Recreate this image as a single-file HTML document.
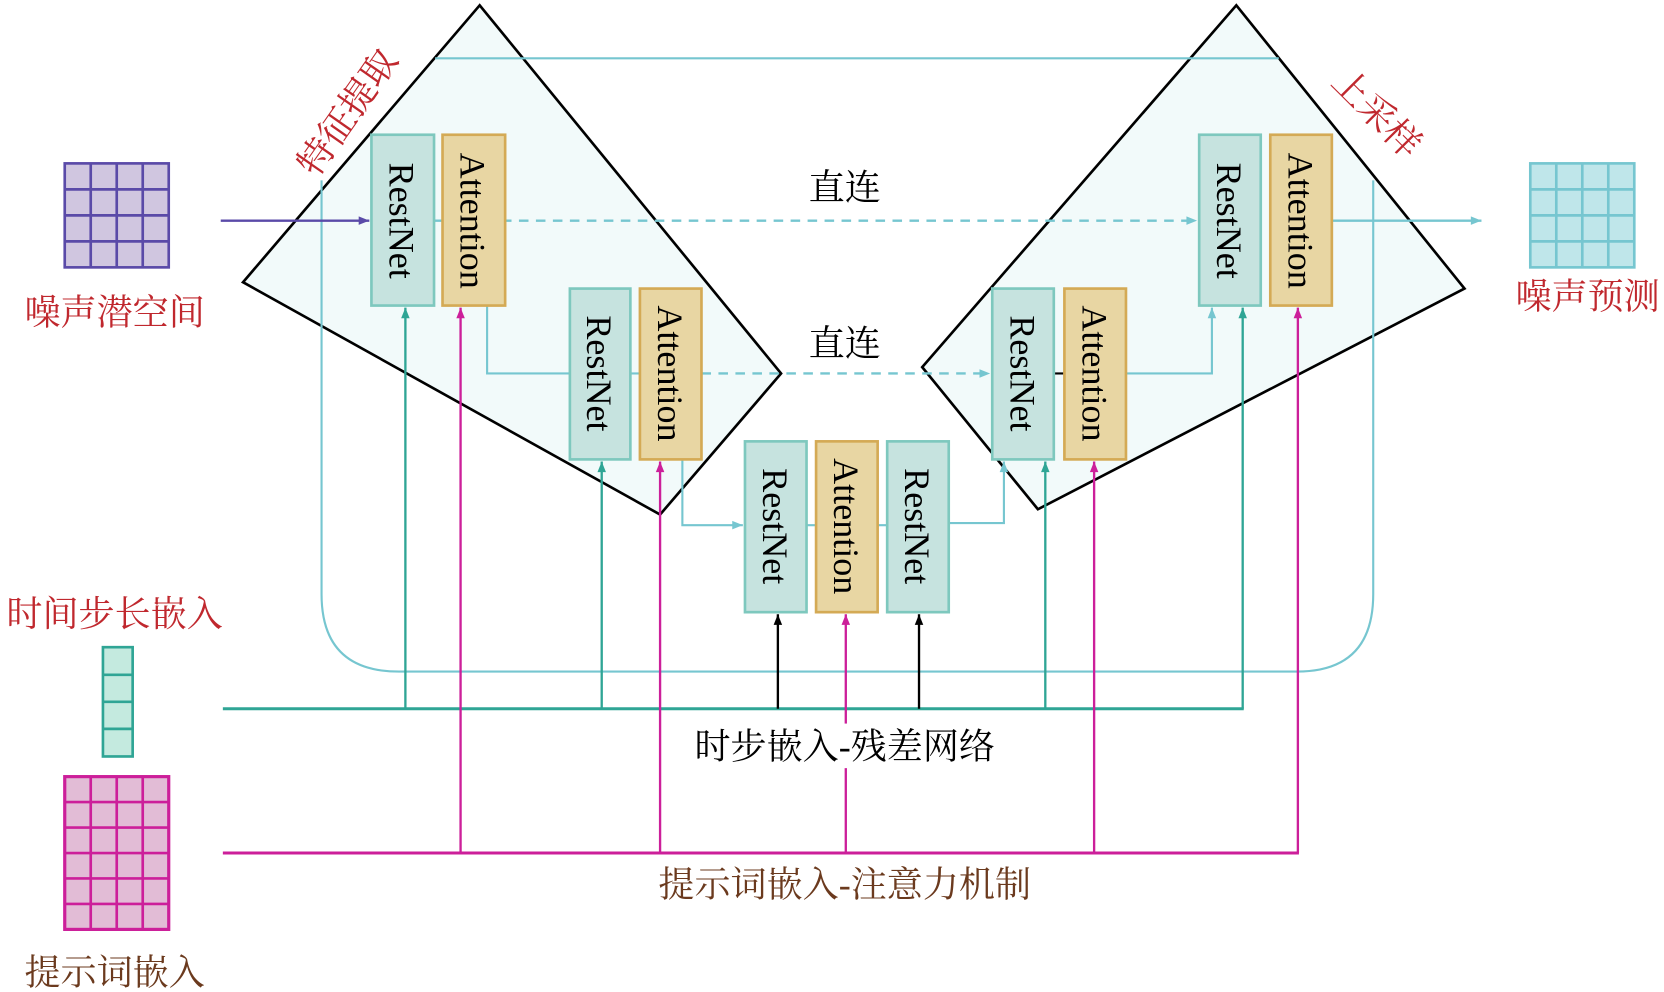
<!DOCTYPE html>
<html><head><meta charset="utf-8"><style>html,body{margin:0;padding:0;background:#fff}svg{display:block}</style></head>
<body>
<svg width="1664" height="992" viewBox="0 0 1568 935" preserveAspectRatio="none" xmlns="http://www.w3.org/2000/svg">
<defs>
<marker id="aC" viewBox="0 0 10 10" refX="10" refY="5" markerWidth="14" markerHeight="10" markerUnits="userSpaceOnUse" orient="auto"><path d="M0,1 L10,5 L0,9 z" fill="#76c6d0"/></marker>
<marker id="aT" viewBox="0 0 10 10" refX="10" refY="5" markerWidth="14" markerHeight="10" markerUnits="userSpaceOnUse" orient="auto"><path d="M0,1 L10,5 L0,9 z" fill="#2fa595"/></marker>
<marker id="aM" viewBox="0 0 10 10" refX="10" refY="5" markerWidth="14" markerHeight="10" markerUnits="userSpaceOnUse" orient="auto"><path d="M0,1 L10,5 L0,9 z" fill="#cc1f9a"/></marker>
<marker id="aK" viewBox="0 0 10 10" refX="10" refY="5" markerWidth="14" markerHeight="10" markerUnits="userSpaceOnUse" orient="auto"><path d="M0,1 L10,5 L0,9 z" fill="#000"/></marker>
<marker id="aP" viewBox="0 0 10 10" refX="10" refY="5" markerWidth="14" markerHeight="10" markerUnits="userSpaceOnUse" orient="auto"><path d="M0,1 L10,5 L0,9 z" fill="#5a4aa8"/></marker>
</defs>
<polygon points="452,5 229,266 622,485 736,352" fill="#f2fafa" stroke="#000" stroke-width="2.5"/>
<polygon points="1165,5 1380,272 978,480 869,346" fill="#f2fafa" stroke="#000" stroke-width="2.5"/>
<path d="M410,55 L1205,55" stroke="#76c6d0" stroke-width="2" fill="none"/>
<path d="M303,170 L303,560 Q303,633 376,633 L1222,633 Q1294,633 1294,560 L1294,170" stroke="#76c6d0" stroke-width="2" fill="none"/>
<line x1="409" y1="208" x2="1128" y2="208" stroke="#76c6d0" stroke-width="2.2" stroke-dasharray="9,7" marker-end="url(#aC)"/>
<line x1="661" y1="352" x2="933" y2="352" stroke="#76c6d0" stroke-width="2.2" stroke-dasharray="9,7" marker-end="url(#aC)"/>
<line x1="208" y1="208" x2="348" y2="208" stroke="#5a4aa8" stroke-width="2.2" marker-end="url(#aP)"/>
<path d="M459,288 L459,352 L537,352" stroke="#76c6d0" stroke-width="2" fill="none"/>
<path d="M594,352 L603,352" stroke="#76c6d0" stroke-width="2"/>
<path d="M643,433 L643,495 L700,495" stroke="#76c6d0" stroke-width="2" fill="none" marker-end="url(#aC)"/>
<path d="M760,495 L769,495 M827,495 L836,495" stroke="#76c6d0" stroke-width="2"/>
<path d="M894,493 L946,493 L946,435" stroke="#76c6d0" stroke-width="2" fill="none" marker-end="url(#aC)"/>
<path d="M993,352 L1003,352" stroke="#000" stroke-width="2"/>
<path d="M1061,352 L1142,352 L1142,290" stroke="#76c6d0" stroke-width="2" fill="none" marker-end="url(#aC)"/>
<line x1="1255" y1="208" x2="1396" y2="208" stroke="#76c6d0" stroke-width="2.2" marker-end="url(#aC)"/>
<line x1="210" y1="668" x2="1172" y2="668" stroke="#2fa595" stroke-width="2.8"/>
<g stroke="#2fa595" stroke-width="2.2">
<line x1="382" y1="668" x2="382" y2="290" marker-end="url(#aT)"/>
<line x1="567" y1="668" x2="567" y2="435" marker-end="url(#aT)"/>
<line x1="985" y1="668" x2="985" y2="435" marker-end="url(#aT)"/>
<line x1="1171" y1="668" x2="1171" y2="290" marker-end="url(#aT)"/>
</g>
<g stroke="#000" stroke-width="2.2">
<line x1="733" y1="668" x2="733" y2="579" marker-end="url(#aK)"/>
<line x1="866" y1="668" x2="866" y2="579" marker-end="url(#aK)"/>
</g>
<line x1="210" y1="804" x2="1224" y2="804" stroke="#cc1f9a" stroke-width="2.8"/>
<g stroke="#cc1f9a" stroke-width="2.2">
<line x1="434" y1="804" x2="434" y2="290" marker-end="url(#aM)"/>
<line x1="622" y1="804" x2="622" y2="435" marker-end="url(#aM)"/>
<line x1="797" y1="804" x2="797" y2="579" marker-end="url(#aM)"/>
<line x1="1031" y1="804" x2="1031" y2="435" marker-end="url(#aM)"/>
<line x1="1223" y1="804" x2="1223" y2="290" marker-end="url(#aM)"/>
</g>
<g stroke-width="2.5">
<rect x="350" y="127" width="59" height="161" fill="#c6e3df" stroke="#7ec8be"/>
<rect x="417" y="127" width="59" height="161" fill="#e8d6a3" stroke="#d4aa55"/>
<rect x="537" y="272" width="57" height="161" fill="#c6e3df" stroke="#7ec8be"/>
<rect x="603" y="272" width="58" height="161" fill="#e8d6a3" stroke="#d4aa55"/>
<rect x="702" y="416" width="58" height="161" fill="#c6e3df" stroke="#7ec8be"/>
<rect x="769" y="416" width="58" height="161" fill="#e8d6a3" stroke="#d4aa55"/>
<rect x="836" y="416" width="58" height="161" fill="#c6e3df" stroke="#7ec8be"/>
<rect x="935" y="272" width="58" height="161" fill="#c6e3df" stroke="#7ec8be"/>
<rect x="1003" y="272" width="58" height="161" fill="#e8d6a3" stroke="#d4aa55"/>
<rect x="1130" y="127" width="58" height="161" fill="#c6e3df" stroke="#7ec8be"/>
<rect x="1197" y="127" width="58" height="161" fill="#e8d6a3" stroke="#d4aa55"/>
</g>
<g font-family="Liberation Serif, serif" font-size="34" fill="#000" text-anchor="middle" stroke="none">
<text transform="translate(379,208) rotate(90)" dy="12">RestNet</text>
<text transform="translate(446,208) rotate(90)" dy="12">Attention</text>
<text transform="translate(565,352) rotate(90)" dy="12">RestNet</text>
<text transform="translate(632,352) rotate(90)" dy="12">Attention</text>
<text transform="translate(731,496) rotate(90)" dy="12">RestNet</text>
<text transform="translate(798,496) rotate(90)" dy="12">Attention</text>
<text transform="translate(865,496) rotate(90)" dy="12">RestNet</text>
<text transform="translate(964,352) rotate(90)" dy="12">RestNet</text>
<text transform="translate(1032,352) rotate(90)" dy="12">Attention</text>
<text transform="translate(1159,208) rotate(90)" dy="12">RestNet</text>
<text transform="translate(1226,208) rotate(90)" dy="12">Attention</text>
</g>
<g stroke="#5a4aa8" stroke-width="2.5" fill="#d0c6e0">
<rect x="61" y="154" width="98" height="98"/>
<path d="M85.5,154V252M110,154V252M134.5,154V252M61,178.5H159M61,203H159M61,227.5H159" fill="none"/>
</g>
<g stroke="#76c6d0" stroke-width="2.5" fill="#bfe6ea">
<rect x="1442" y="154" width="98" height="98"/>
<path d="M1466.5,154V252M1491,154V252M1515.5,154V252M1442,178.5H1540M1442,203H1540M1442,227.5H1540" fill="none"/>
</g>
<g stroke="#2fa595" stroke-width="2.5" fill="#c4eadf">
<rect x="97" y="610" width="28" height="103"/>
<path d="M97,636H125M97,661.5H125M97,687H125" fill="none"/>
</g>
<g stroke="#cc1f9a" stroke-width="3" fill="#e2bcd6">
<rect x="61" y="732" width="98" height="144"/>
<path d="M85.5,732V876M110,732V876M134.5,732V876M61,756H159M61,780H159M61,804H159M61,828H159M61,852H159" fill="none" stroke-width="2.5"/>
</g>
<g font-family="Liberation Serif, 'Noto Serif CJK SC', 'Noto Sans CJK SC', serif" font-size="34" text-anchor="middle">
<text x="108" y="306" fill="#c0282e">噪声潜空间</text>
<text x="108" y="590" fill="#c0282e">时间步长嵌入</text>
<text x="108" y="928" fill="#6b3a1e">提示词嵌入</text>
<text x="1496" y="291" fill="#c0282e">噪声预测</text>
<text x="796" y="188" fill="#000">直连</text>
<text x="796" y="335" fill="#000">直连</text>
<rect x="645" y="682" width="302" height="42" fill="#fff"/>
<text x="796" y="715" fill="#000">时步嵌入-残差网络</text>
<text x="796" y="845" fill="#6b3a1e">提示词嵌入-注意力机制</text>
<text transform="translate(328,106) rotate(-55)" fill="#c0282e" dy="11">特征提取</text>
<text transform="translate(1297,107) rotate(45)" fill="#c0282e" dy="11">上采样</text>
</g>
</svg>
</body></html>
